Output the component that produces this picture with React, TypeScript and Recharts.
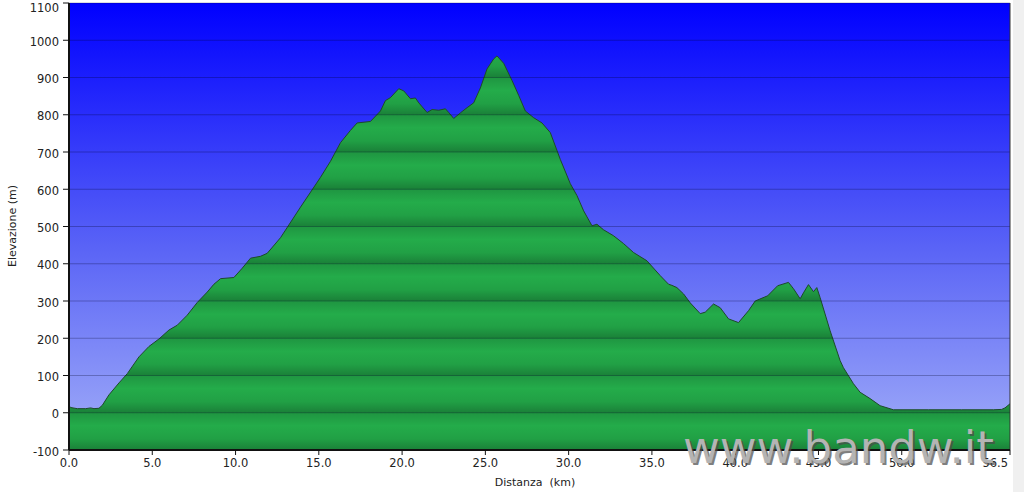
import { AreaChart, Area, XAxis, YAxis, CartesianGrid, ReferenceLine } from "recharts";

// elevation profile, distance in km / elevation in m
const distance = [
  0, 0.1, 0.5, 1.0, 1.3, 1.5, 1.8, 2.0, 2.4, 3.0, 3.5, 4.2, 4.8, 5.4, 6.0, 6.5, 7.1, 7.7, 8.3, 8.7,
  9.1, 9.9, 10.4, 10.9, 11.5, 11.9, 12.7, 13.9, 15.1, 15.7, 16.3, 16.9, 17.3, 18.1, 18.7, 19.0, 19.3,
  19.8, 20.1, 20.5, 20.8, 21.0, 21.5, 21.8, 22.2, 22.6, 22.8, 23.1, 23.5, 23.9, 24.3, 24.7, 25.1, 25.5,
  25.7, 26.1, 26.6, 27.0, 27.4, 27.9, 28.4, 28.9, 29.5, 30.1, 30.5, 30.9, 31.4, 31.7, 32.1, 32.7, 33.3,
  33.9, 34.7, 35.5, 36.0, 36.2, 36.5, 36.9, 37.3, 37.9, 38.2, 38.7, 39.1, 39.6, 40.2, 40.8, 41.2, 41.95,
  42.55, 43.2, 43.5, 43.9, 44.1, 44.4, 44.7, 44.9, 45.1, 45.7, 46.3, 46.5, 47.1, 47.5, 48.1, 48.7, 49.5,
  51.6, 53.6, 55.5, 56.0, 56.2, 56.5,
];
const elevation = [
  19, 14, 11, 11, 13, 11, 12, 20, 48, 80, 105, 150, 178, 198, 222, 235, 262, 296, 324, 345,
  360, 363, 388, 415, 420, 428, 470, 552, 632, 675, 725, 758, 778, 782, 810, 838, 846,
  870, 864, 843, 845, 832, 806, 814, 812, 816, 806, 790, 805, 819, 832, 872, 923, 950,
  958, 938, 892, 852, 810, 792, 778, 752, 680, 615, 583, 542, 502, 506, 491, 475, 454,
  430, 408, 368, 345, 342, 336, 319, 295, 266, 270, 292, 282, 252, 242, 274, 300, 314,
  341, 350, 333, 306, 322, 344, 325, 336, 309, 220, 140, 121, 78, 55, 38, 19, 8,
  8, 8, 8, 9, 13, 24,
];
const yTicks = [-100, 0, 100, 200, 300, 400, 500, 600, 700, 800, 900, 1000, 1100];
const xTicks = [0, 5, 10, 15, 20, 25, 30, 35, 40, 45, 50, 56.5];

const data = distance.map((d, i) => ({ d, e: elevation[i] }));

const W = 1024;
const H = 492;
const TOP = 3;
const PLOT_H = 447;
const BAND = PLOT_H / (yTicks.length - 1);
const font = "'DejaVu Sans', Verdana, sans-serif";

const YTick = ({ x, y, payload }: any) => (
  <text x={x} y={Math.max(y + 1.5, 8)} dy="0.35em" textAnchor="end" fontFamily={font} fontSize={11.5} fill="#222">
    {payload.value}
  </text>
);

const XTick = ({ x, y, payload, index }: any) => {
  const last = index === xTicks.length - 1;
  return (
    <text
      x={last ? x - 2 : x}
      y={y}
      dy="0.75em"
      textAnchor={last ? "end" : "middle"}
      fontFamily={font}
      fontSize={11.5}
      fill="#222"
    >
      {Number(payload.value).toFixed(1)}
    </text>
  );
};

export default function App() {
  return (
    <div style={{ position: "absolute", left: 0, top: 0, width: W, height: H, background: "#fff", overflow: "hidden" }}>
      <AreaChart width={W} height={H} data={data} margin={{ top: TOP, right: 14, left: 0, bottom: 12 }}>
        <defs>
          <linearGradient id="sky" x1="0" y1="0" x2="0" y2="1">
            <stop offset="0" stopColor="#0000ff" />
            <stop offset="0.55" stopColor="#5a64f6" />
            <stop offset="1" stopColor="#a2aef8" />
          </linearGradient>
          <linearGradient id="band" x1="0" y1="0" x2="0" y2="1">
            <stop offset="0" stopColor="#1f9541" />
            <stop offset="0.35" stopColor="#24ac4a" />
            <stop offset="0.7" stopColor="#21a045" />
            <stop offset="1" stopColor="#1a8038" />
          </linearGradient>
          <pattern id="bands" patternUnits="userSpaceOnUse" x="0" y={TOP} width={W} height={BAND}>
            <rect x="0" y="0" width={W} height={BAND} fill="url(#band)" />
          </pattern>
        </defs>
        <CartesianGrid horizontal={false} vertical={false} fill="url(#sky)" stroke="none" />
        <XAxis
          dataKey="d"
          type="number"
          domain={[0, 56.5]}
          ticks={xTicks}
          interval={0}
          height={30}
          tick={<XTick />}
          tickSize={5}
          tickMargin={3}
          axisLine={{ stroke: "#111", strokeWidth: 2 }}
          tickLine={{ stroke: "#111" }}
        />
        <YAxis
          type="number"
          domain={[-100, 1100]}
          ticks={yTicks}
          interval={0}
          width={69}
          tick={<YTick />}
          tickSize={6}
          tickMargin={4}
          axisLine={{ stroke: "#111", strokeWidth: 2 }}
          tickLine={{ stroke: "#111" }}
        />
        <Area
          type="linear"
          dataKey="e"
          baseValue={-100}
          fill="url(#bands)"
          fillOpacity={1}
          stroke="#1d4a2a"
          strokeWidth={1}
          dot={false}
          activeDot={false}
          isAnimationActive={false}
        />
        {yTicks.slice(1).map((t) => (
          <ReferenceLine key={t} y={t} stroke="rgba(0,0,40,0.28)" strokeWidth={1} />
        ))}
        <ReferenceLine x={56.5} stroke="#333" strokeWidth={1} />
      </AreaChart>
      <div
        style={{
          position: "absolute",
          left: 12,
          top: 226,
          transform: "translate(-50%, -50%) rotate(-90deg)",
          fontFamily: font,
          fontSize: 11,
          color: "#222",
          whiteSpace: "pre",
        }}
      >
        Elevazione (m)
      </div>
      <div
        style={{
          position: "absolute",
          left: 535,
          top: 482,
          transform: "translate(-50%, -50%)",
          fontFamily: font,
          fontSize: 11,
          color: "#222",
          whiteSpace: "pre",
        }}
      >
        {"Distanza  (km)"}
      </div>
      <svg style={{ position: "absolute", left: 0, top: 0 }} width={W} height={H}>
        <text x={685} y={465} fontFamily={font} fontSize={45} fill="#4a4a4a" opacity={0.7}>
          www.bandw.it
        </text>
        <text x={683} y={463} fontFamily={font} fontSize={45} fill="#b4b4b4">
          www.bandw.it
        </text>
      </svg>
      <div style={{ position: "absolute", left: 1013, top: 0, width: 11, height: H, background: "#f0f0f0" }} />
    </div>
  );
}
